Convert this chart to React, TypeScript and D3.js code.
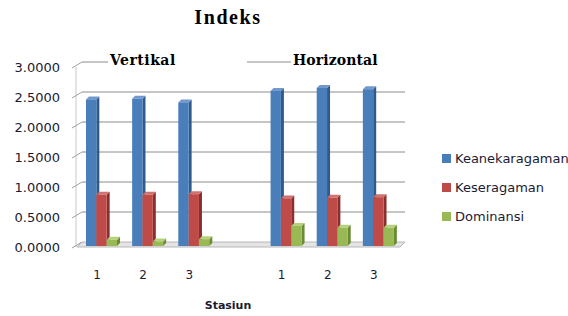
import * as d3 from 'd3';
import React from 'react';

const categories = ['V1', 'V2', 'V3', 'gap', 'H1', 'H2', 'H3'];
const categoryLabels = ['1', '2', '3', '', '1', '2', '3'];
const seriesNames = ['Keanekaragaman', 'Keseragaman', 'Dominansi'];
const keanekaragaman = [2.46, 2.47, 2.41, null, 2.6, 2.65, 2.63];
const keseragaman = [0.87, 0.87, 0.88, null, 0.81, 0.82, 0.83];
const dominansi = [0.12, 0.09, 0.13, null, 0.35, 0.32, 0.32];
const yTicks = [0, 0.5, 1, 1.5, 2, 2.5, 3];

const seriesValues = [keanekaragaman, keseragaman, dominansi];
const colors = [
  { front: '#4a7ebb', side: '#2f5a8c', top: '#7199cc' },
  { front: '#be4b48', side: '#8a2f2d', top: '#d07370' },
  { front: '#98b954', side: '#6a8a33', top: '#b5d17c' },
];

const W = 568;
const H = 316;
const DX = 5; // 3d depth offsets
const DY = 5;

const App = () => {
  const x = d3.scaleBand().domain(categories).range([77, 400]);
  const inner = d3.scaleBand().domain(seriesNames).range([9, 40]).paddingInner(0);
  const y = d3.scaleLinear().domain([0, 3]).range([247, 67]);
  const depth = 3;

  const bars: JSX.Element[] = [];
  categories.forEach((c, i) => {
    seriesValues.forEach((vals, s) => {
      const v = vals[i];
      if (v == null) return;
      const x0 = (x(c) as number) + (inner(seriesNames[s]) as number);
      const w = inner.bandwidth();
      const y0 = y(v);
      const yb = y(0) - 1;
      const col = colors[s];
      bars.push(
        <g key={`${c}-${s}`}>
          <polygon
            points={`${x0 + w},${y0} ${x0 + w + depth},${y0 - depth} ${x0 + w + depth},${yb - depth} ${x0 + w},${yb}`}
            fill={col.side}
          />
          <polygon
            points={`${x0},${y0} ${x0 + depth},${y0 - depth} ${x0 + w + depth},${y0 - depth} ${x0 + w},${y0}`}
            fill={col.top}
          />
          <rect x={x0} y={y0} width={w} height={yb - y0} fill={col.front} />
        </g>
      );
    });
  });

  return (
    <svg width={W} height={H} style={{ position: 'absolute', left: 0, top: 0, background: '#fff' }}>
      <text x={228} y={24} textAnchor="middle" fontFamily="Liberation Serif" fontWeight="bold" fontSize={20} letterSpacing={1.6} fill="#000">
        Indeks
      </text>

      {/* floor */}
      <polygon
        points={`${77},${y(0)} ${400},${y(0)} ${400 + DX},${y(0) - DY} ${77 + DX},${y(0) - DY}`}
        fill="#e4e4e4"
        stroke="#b8b8b8"
        strokeWidth={1}
      />
      {/* left wall */}
      <line x1={76} x2={76} y1={y(3)} y2={y(0)} stroke="#c8c8c8" />
      {yTicks.map(t => (
        <g key={t}>
          <line x1={72} x2={82} y1={y(t) + 1} y2={y(t) - DY} stroke="#a0a0a0" />
          {t > 0 && <line x1={82} x2={405} y1={y(t) - DY} y2={y(t) - DY} stroke="#8c8c8c" />}
          <text x={60} y={y(t)} dy="0.35em" textAnchor="end" fontFamily="DejaVu Sans" fontSize={13} fill="#1b1b33">
            {d3.format('.4f')(t)}
          </text>
        </g>
      ))}

      {/* group title boxes over the top gridline */}
      <rect x={108} y={52} width={139} height={16} fill="#fff" />
      <rect x={291} y={52} width={120} height={16} fill="#fff" />
      <text x={110} y={65} fontFamily="DejaVu Serif" fontWeight="bold" fontSize={14} letterSpacing={0.5} fill="#000">
        Vertikal
      </text>
      <text x={293} y={65} fontFamily="DejaVu Serif" fontWeight="bold" fontSize={14} letterSpacing={0.1} fill="#000">
        Horizontal
      </text>

      {bars}

      {categories.map((c, i) => (
        <text
          key={c}
          x={(x(c) as number) + 20}
          y={275}
          dy="0.35em"
          textAnchor="middle"
          fontFamily="DejaVu Sans"
          fontSize={12}
          fill="#1b1b33"
        >
          {categoryLabels[i]}
        </text>
      ))}

      <text x={228} y={305} dy="0.35em" textAnchor="middle" fontFamily="DejaVu Sans" fontWeight="bold" fontSize={11} fill="#1b1b33">
        Stasiun
      </text>

      {seriesNames.map((n, i) => (
        <g key={n} transform={`translate(442, ${158 + i * 29})`}>
          <rect x={0} y={-4} width={9} height={9} fill={colors[i].front} />
          <text x={13} y={0} dy="0.35em" fontFamily="DejaVu Sans" fontSize={13} fill="#1b1b33">
            {n}
          </text>
        </g>
      ))}
    </svg>
  );
};

export default App;
